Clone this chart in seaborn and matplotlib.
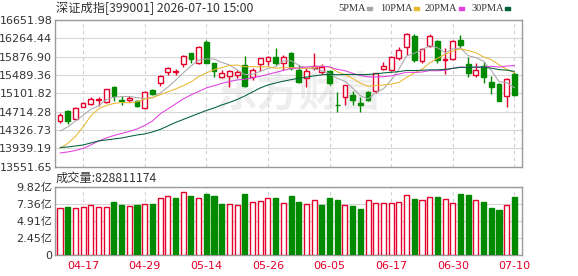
import numpy as np
import pandas as pd
import matplotlib
matplotlib.use("Agg")
import matplotlib.pyplot as plt
import seaborn as sns

# ---------------- data ----------------
dates = ["04-14", "04-15", "04-16", "04-17", "04-20", "04-21", "04-22", "04-23", "04-24", "04-27",
         "04-28", "04-29", "04-30", "05-06", "05-07", "05-08", "05-11", "05-12", "05-13", "05-14",
         "05-15", "05-18", "05-19", "05-20", "05-21", "05-22", "05-25", "05-26", "05-27", "05-28",
         "05-29", "06-01", "06-02", "06-03", "06-04", "06-05", "06-08", "06-09", "06-10", "06-11",
         "06-12", "06-15", "06-16", "06-17", "06-18", "06-22", "06-23", "06-24", "06-25", "06-26",
         "06-29", "06-30", "07-01", "07-02", "07-03", "07-06", "07-07", "07-08", "07-09", "07-10"]

opens = [14516.7, 14734.6, 14565.3, 14819.2, 14882.6, 14954.6, 14912.2, 15242.2, 14960.9, 14954.6,
         14939.7, 14785.3, 15178.8, 15314.2, 15559.6, 15553.2, 15716.1, 15948.8, 15737.3, 16194.2,
         15737.3, 15453.8, 15462.3, 15489.7, 15701.3, 15453.8, 15716.1, 15785.9, 15864.2, 15737.3,
         15948.8, 15595.5, 15432.6, 15631.5, 15546.9, 15580.7, 14861.5, 15030.7, 15066.7, 14891.1,
         15136.5, 15151.3, 15610.3, 15595.5, 15843.0, 16088.4, 16321.1, 15792.2, 16109.6, 16209.0,
         15813.4, 15821.9, 16230.1, 15716.1, 15489.7, 15686.5, 15348.0, 15293.0, 15051.9, 15504.6]

closes = [14643.6, 14516.7, 14798.0, 14891.1, 14982.1, 14982.1, 15193.6, 15051.9, 14946.1, 15009.6,
          14840.3, 15123.8, 15094.2, 15468.6, 15631.5, 15568.0, 15898.0, 15834.6, 16088.4, 15749.9,
          15574.4, 15525.7, 15574.4, 15559.6, 15257.1, 15595.5, 15843.0, 15876.9, 15749.9, 15864.2,
          15631.5, 15348.0, 15580.7, 15680.1, 15665.3, 15314.2, 14848.8, 15278.2, 14960.9, 14855.1,
          14960.9, 15525.7, 15680.1, 15876.9, 16018.6, 16357.1, 15807.1, 16039.8, 16321.1, 15807.1,
          15828.2, 16209.0, 16124.4, 15525.7, 15595.5, 15441.1, 15242.2, 14946.1, 15405.1, 15066.7]

highs = [14679.6, 14749.4, 14812.8, 14912.2, 15018.0, 15030.7, 15200.0, 15257.1, 15045.5, 15045.5,
         14960.9, 15151.3, 15193.6, 15489.7, 15652.6, 15610.3, 15912.8, 15961.5, 16103.2, 16230.1,
         15749.9, 15595.5, 15595.5, 15595.5, 15898.0, 15631.5, 15855.7, 15898.0, 16054.6, 15912.8,
         15969.9, 15701.3, 15631.5, 15948.8, 15716.1, 15595.5, 15136.5, 15285.0, 15151.3, 15030.7,
         15151.3, 15538.4, 15771.1, 15898.0, 16088.4, 16371.9, 16357.1, 16067.3, 16350.7, 16230.1,
         16054.6, 16230.1, 16335.9, 15876.9, 15737.3, 15758.4, 15468.6, 15314.2, 15432.6, 15559.6]

lows = [14468.0, 14459.5, 14552.6, 14806.5, 14855.1, 14827.6, 14905.0, 14946.1, 14855.1, 14924.9,
        14806.5, 14770.5, 15066.7, 15263.4, 15489.7, 15489.7, 15659.0, 15737.3, 15730.0, 15737.3,
        15453.8, 15419.9, 15242.2, 15419.9, 15242.2, 15384.0, 15574.4, 15701.3, 15701.3, 15595.5,
        15595.5, 15314.2, 15242.2, 15595.5, 15504.6, 15278.2, 14713.4, 14855.1, 14855.1, 14713.4,
        14939.7, 15102.6, 15595.5, 15574.4, 15807.1, 15912.8, 15771.1, 15737.3, 16075.7, 15737.3,
        15504.6, 15807.1, 16054.6, 15453.8, 15441.1, 15314.2, 15087.8, 14939.7, 14806.5, 15051.9]

# volume in 亿
volumes = [6.78, 6.93, 6.74, 6.93, 7.16, 6.93, 6.93, 7.59, 7.12, 7.07,
           7.20, 7.35, 7.35, 8.14, 8.43, 8.14, 9.00, 8.47, 8.14, 8.75,
           8.47, 7.35, 7.35, 7.16, 8.75, 7.59, 7.72, 8.14, 8.14, 7.45,
           8.43, 7.59, 7.30, 7.87, 7.20, 8.19, 7.87, 7.16, 7.07, 6.64,
           7.83, 7.41, 7.41, 7.45, 7.59, 8.67, 8.01, 7.87, 8.25, 8.29,
           7.97, 7.45, 8.71, 8.57, 7.87, 7.59, 6.78, 6.46, 7.16, 8.29]
vol_up = [1, 0, 1, 1, 1, 1, 1, 0, 0, 1,
          0, 1, 0, 1, 1, 0, 1, 0, 1, 0,
          0, 0, 1, 1, 0, 1, 1, 1, 0, 1,
          0, 0, 1, 1, 0, 0, 0, 1, 0, 0,
          1, 1, 1, 1, 1, 1, 0, 1, 1, 0,
          1, 1, 0, 0, 1, 0, 0, 0, 1, 0]

# moving-average values before the window is full
ma5_head = [14305.1, 14389.7, 14516.7, 14633.0]
ma10_head = [13939.2, 14040.7, 14188.8, 14389.7, 14622.4, 14770.5, 14844.6, 14886.9, 14908.0]
ma20_head = [13839.7, 13860.9, 13892.6, 13934.9, 14009.0, 14093.6, 14157.0, 14209.9, 14252.2, 14294.5,
             14347.4, 14421.5, 14516.7, 14664.7, 14770.5, 14876.3, 14982.1, 15066.7, 15140.7]
ma30_head = [13956.1, 13966.7, 13987.8, 14009.0, 14051.3, 14093.6, 14114.7, 14135.9, 14157.0, 14188.8,
             14220.5, 14241.7, 14284.0, 14336.9, 14410.9, 14484.9, 14548.4, 14611.9, 14675.3, 14738.8,
             14791.7, 14855.1, 14908.0, 14971.5, 15045.5, 15130.1, 15214.7, 15278.2, 15320.5]

tick_labels = ["04-17", "04-29", "05-14", "05-26", "06-05", "06-17", "06-30", "07-10"]
price_ticks = [13551.65, 13939.19, 14326.73, 14714.28, 15101.82, 15489.36, 15876.90, 16264.44, 16651.98]
vol_ticks = [0, 2.45, 4.91, 7.36, 9.82]
vol_tick_labels = ["0", "2.45亿", "4.91亿", "7.36亿", "9.82亿"]
latest_volume = 828811174
title = "深证成指[399001] 2026-07-10 15:00"
ma_names = ["5PMA", "10PMA", "20PMA", "30PMA"]

# ---------------- style ----------------
sns.set_theme(style="white")
plt.rcParams['font.family'] = ['DejaVu Sans', 'Noto Sans CJK SC']

RED = "#e4002b"
GREEN = "#008a00"
MA_COLORS = ["#a8a8a8", "#e8b830", "#e040e0", "#00603a"]
GRID = "#d6d6d6"
SPINE = "#9a9a9a"
TXT = "#333333"

n = len(closes)
df = pd.DataFrame({"i": np.arange(n), "date": dates, "open": opens, "close": closes,
                   "high": highs, "low": lows, "vol": volumes, "vol_up": vol_up})
c = df["close"]
for w, head, name in [(5, ma5_head, "5PMA"), (10, ma10_head, "10PMA"),
                      (20, ma20_head, "20PMA"), (30, ma30_head, "30PMA")]:
    m = c.rolling(w).mean().to_numpy()
    m[:len(head)] = head
    df[name] = m

fig = plt.figure(figsize=(5.78, 2.76), dpi=100)
W, H = 578, 276
L, R = 55, 521.7
ax1 = fig.add_axes([L / W, 1 - 166.6 / H, (R - L) / W, (166.6 - 20.0) / H])
ax2 = fig.add_axes([L / W, 1 - 255 / H, (R - L) / W, (255 - 186.5) / H])

xlim = (-0.65, 59.95)
tick_idx = [dates.index(t) for t in tick_labels]

# watermark
ax1.text(31, 15110, "东方财富", fontsize=30, fontweight='bold', color="#eeeeee",
         ha='center', va='center', family=['Noto Sans CJK SC'], zorder=0, style='italic')

# candles
up = df["close"] >= df["open"]
colors = np.where(up, RED, GREEN)
ax1.vlines(df["i"], df["low"], df["high"], colors=colors, linewidth=1.0, zorder=3)
body_bottom = np.minimum(df["open"], df["close"])
body_h = np.abs(df["close"] - df["open"])
ax1.bar(df["i"], body_h, bottom=body_bottom, width=0.62,
        color=np.where(up, "white", GREEN), edgecolor=colors, linewidth=1.0, zorder=4)

# moving averages via seaborn
for name, col in zip(ma_names, MA_COLORS):
    sns.lineplot(data=df, x="i", y=name, ax=ax1, color=col, linewidth=0.75, zorder=5, legend=False)

ax1.set_xlim(*xlim)
ax1.set_ylim(price_ticks[0], price_ticks[-1])
ax1.set_yticks(price_ticks)
ax1.set_yticklabels([f"{v:.2f}" for v in price_ticks], fontsize=8, color=TXT)
ax1.set_xticks(tick_idx)
ax1.set_xticklabels([])
ax1.set_xlabel("")
ax1.set_ylabel("")

# volume
vcol = np.where(df["vol_up"] == 1, RED, GREEN)
ax2.bar(df["i"], df["vol"], width=0.66, color=np.where(df["vol_up"] == 1, "white", GREEN),
        edgecolor=vcol, linewidth=1.0, zorder=3)
ax2.set_xlim(*xlim)
ax2.set_ylim(0, vol_ticks[-1])
ax2.set_yticks(vol_ticks)
ax2.set_yticklabels(vol_tick_labels, fontsize=8, color=TXT)
ax2.set_xticks(tick_idx)
ax2.set_xticklabels(tick_labels, fontsize=8, color=RED)

for ax in (ax1, ax2):
    ax.yaxis.grid(True, color=GRID, linewidth=0.8, linestyle='-', zorder=0)
    ax.xaxis.grid(True, color="#cfcfcf", linewidth=0.8, linestyle=(0, (3, 3)), zorder=0)
    ax.set_axisbelow(True)
    for s in ax.spines.values():
        s.set_color(SPINE)
        s.set_linewidth(1.0)
        s.set_visible(True)
    ax.tick_params(axis='both', length=0, pad=2)
ax2.tick_params(axis='x', pad=4)

# header texts
fig.text(56 / W, 1 - 8.5 / H, title, fontsize=8.8, color=TXT, va='center', ha='left',
         family=['Noto Sans CJK SC', 'DejaVu Sans'])
fig.text(56 / W, 1 - 178 / H, f"成交量:{latest_volume}", fontsize=8.8, color=TXT,
         va='center', ha='left', family=['Noto Sans CJK SC', 'DejaVu Sans'])

# legend
lx = [338, 380, 425, 471]
for x0, name, col in zip(lx, ma_names, MA_COLORS):
    fig.text(x0 / W, 1 - 8.5 / H, name, fontsize=7.5, color=TXT, va='center', ha='left',
             family=['Liberation Serif'])
    tw = {"5PMA": 26, "10PMA": 31, "20PMA": 31, "30PMA": 31}[name]
    fig.patches.append(plt.Rectangle(((x0 + tw + 3) / W, 1 - 10 / H), 5 / W, 3 / H,
                                     transform=fig.transFigure, color=col, figure=fig))

fig.savefig("out.png", dpi=100)
